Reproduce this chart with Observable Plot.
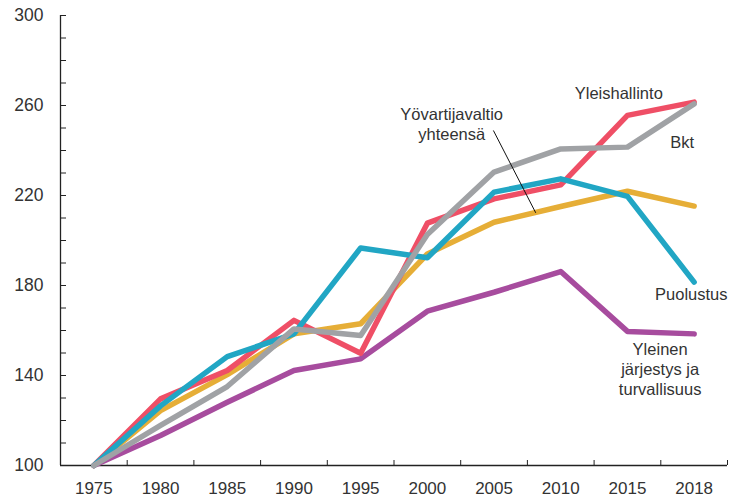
<!DOCTYPE html>
<html>
<head>
<meta charset="utf-8">
<script src="https://cdn.jsdelivr.net/npm/d3@7"></script>
<script src="https://cdn.jsdelivr.net/npm/@observablehq/plot@0.6"></script>
<style>
  html, body { margin: 0; padding: 0; background: #fff; }
</style>
</head>
<body>
<div id="chart"></div>
<script>
// Tick labels (categories on the x axis)
const years = ["1975", "1980", "1985", "1990", "1995", "2000", "2005", "2010", "2015", "2018"];
const yTickLabels = [100, 140, 180, 220, 260, 300];

// Series values (index 1975 = 100)
const yleishallinto = [100, 129.6, 142.2, 164.5, 149.9, 207.7, 218.5, 224.7, 255.6, 261.5];
const puolustus     = [100, 126.5, 148.4, 158.5, 196.7, 192.3, 221.5, 227.4, 219.6, 181.5];
const yovartija     = [100, 124.4, 140.4, 158.5, 163.0, 194.0, 208.1, 215.1, 221.9, 215.3];
const bkt           = [100, 117.8, 135.1, 160.7, 157.8, 202.7, 230.4, 240.7, 241.5, 260.7];
const jarjestys     = [100, 113.3, 128.1, 142.2, 147.4, 168.6, 177.0, 186.2, 159.6, 158.5];

// Series names (drawing order: first is drawn at the bottom)
const names = ["Yleinen järjestys ja turvallisuus", "Yövartijavaltio yhteensä", "Yleishallinto", "Puolustus", "Bkt"];
const colors = ["#a74c9e", "#e6ae37", "#ef4f66", "#21a6c4", "#a0a2a5"];
const valueLists = [jarjestys, yovartija, yleishallinto, puolustus, bkt];

const rows = names.flatMap((name, k) => valueLists[k].map((v, i) => ({name, i, v})));

// Direct labels (data coordinates: x = year index, y = index value)
const labelsStart  = [{x: 7.21, y: 265.2, text: "Yleishallinto"}];
const labelsEnd    = [{x: 9.0, y: 243.4, text: "Bkt"}, {x: 9.5, y: 175.7, text: "Puolustus"}];
const labelsMiddle = [
  {x: 8.49, y: 143.0, text: "Yleinen\njärjestys ja\nturvallisuus"},
  {x: 5.365, y: 252.1, text: "Yövartijavaltio\nyhteensä"}
];
const leader = [{x1: 5.99, y1: 248.9, x2: 6.625, y2: 212.3}];

const idx = years.map((_, i) => i);
const bounds = years.map((_, i) => i + 0.5);

const textColor = "#333";
const labelFont = 16.5;

const chart = Plot.plot({
  width: 730,
  height: 497,
  marginLeft: 60,
  marginRight: 3,
  marginTop: 15,
  marginBottom: 32,
  style: {fontFamily: "'Liberation Sans', Arial, sans-serif", color: textColor, background: "#fff", overflow: "visible"},
  x: {type: "linear", domain: [-0.5, 9.5]},
  y: {domain: [100, 300]},
  color: {domain: names, range: colors},
  marks: [
    Plot.axisY({ticks: yTickLabels, tickSize: 0, tickPadding: 17, fontSize: 17.5, label: null}),
    Plot.axisY({ticks: 20, tickSize: -6, tickFormat: () => "", label: null, stroke: "#222"}),
    Plot.axisX({ticks: bounds, tickSize: -5, tickFormat: () => "", label: null, stroke: "#222"}),
    Plot.axisX({ticks: idx, tickSize: 0, tickPadding: 16, tickFormat: i => years[i], fontSize: 17, label: null}),
    Plot.ruleX([-0.5], {stroke: "#222", strokeWidth: 1.3}),
    Plot.ruleY([100], {stroke: "#222", strokeWidth: 1.3}),
    Plot.line(rows, {x: "i", y: "v", z: "name", stroke: "name", strokeWidth: 5.5, strokeLinejoin: "round", strokeLinecap: "round"}),
    Plot.link(leader, {x1: "x1", y1: "y1", x2: "x2", y2: "y2", stroke: "#111", strokeWidth: 1}),
    Plot.text(labelsStart, {x: "x", y: "y", text: "text", textAnchor: "start", lineAnchor: "middle", fontSize: labelFont, fill: textColor}),
    Plot.text(labelsEnd, {x: "x", y: "y", text: "text", textAnchor: "end", lineAnchor: "middle", fontSize: labelFont, fill: textColor}),
    Plot.text(labelsMiddle, {x: "x", y: "y", text: "text", textAnchor: "middle", lineAnchor: "middle", lineHeight: 1.2, fontSize: labelFont, fill: textColor})
  ]
});

document.getElementById("chart").appendChild(chart);
</script>
</body>
</html>
